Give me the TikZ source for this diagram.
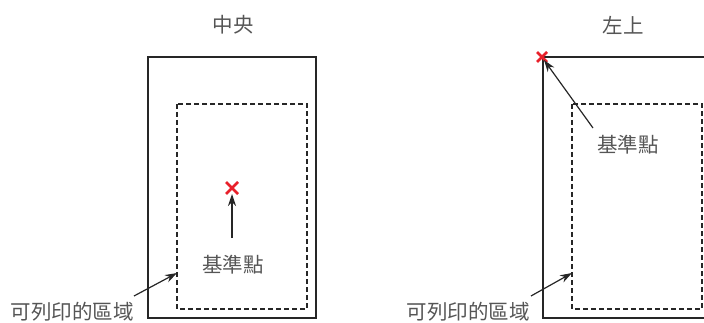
\documentclass[tikz,border=0pt]{standalone}
\usepackage{fontspec}
\newfontfamily\cjk{Noto Sans CJK TC}
\usetikzlibrary{arrows.meta,calc}
\definecolor{txtgray}{HTML}{555555}
\definecolor{xred}{HTML}{E8202A}
\tikzset{
  lbl/.style={font=\cjk\fontsize{20.5}{20.5}\selectfont, text=txtgray, inner sep=0pt},
  paper/.style={draw=black!85, line width=1.3pt},
  printable/.style={draw=black!85, line width=1.1pt, dash pattern=on 5pt off 3pt},
  pointer/.style={draw=black!85, line width=1.2pt, -{Stealth[length=12pt,width=8pt]}},
  redx/.style={draw=xred, line width=2.6pt},
}
\begin{document}
\begin{tikzpicture}[x=1pt,y=-1pt]
\useasboundingbox (0,0) rectangle (704,323);
\clip (0,0) rectangle (704,323);
% ---- left: center ----
\node[lbl] (t1) at (233,25) {中央};
\draw[paper] (148,57) rectangle (316,318);
\draw[printable] (177,104) rectangle (307,309);
\coordinate (r1) at (232,188);
\draw[redx] ($(r1)+(-6,-6)$) -- ($(r1)+(6,6)$) ($(r1)+(-6,6)$) -- ($(r1)+(6,-6)$);
\node[lbl] (b1) at (233,265) {基準點};
\coordinate (b1tail) at (232,238);
\coordinate (b1head) at (232,194);
\draw[pointer] (b1tail) -- (b1head);
\node[lbl] (p1) at (72,312) {可列印的區域};
\coordinate (p1tail) at (134,296);
\coordinate (p1head) at (177,273);
\draw[pointer] (p1tail) -- (p1head);
% ---- right: top-left ----
\node[lbl] (t2) at (623,25) {左上};
\draw[paper] (543,57) rectangle (740,318);
\draw[printable] (572,104) rectangle (702,309);
\coordinate (r2) at (542,57);
\draw[redx] ($(r2)+(-5,-5)$) -- ($(r2)+(5,5)$) ($(r2)+(-5,5)$) -- ($(r2)+(5,-5)$);
\node[lbl] (b2) at (628,145) {基準點};
\coordinate (b2tail) at (593,128);
\coordinate (b2head) at (544,60);
\draw[pointer] (b2tail) -- (b2head);
\node[lbl] (p2) at (468,312) {可列印的區域};
\coordinate (p2tail) at (531,296);
\coordinate (p2head) at (572,273);
\draw[pointer] (p2tail) -- (p2head);
\end{tikzpicture}
\end{document}
